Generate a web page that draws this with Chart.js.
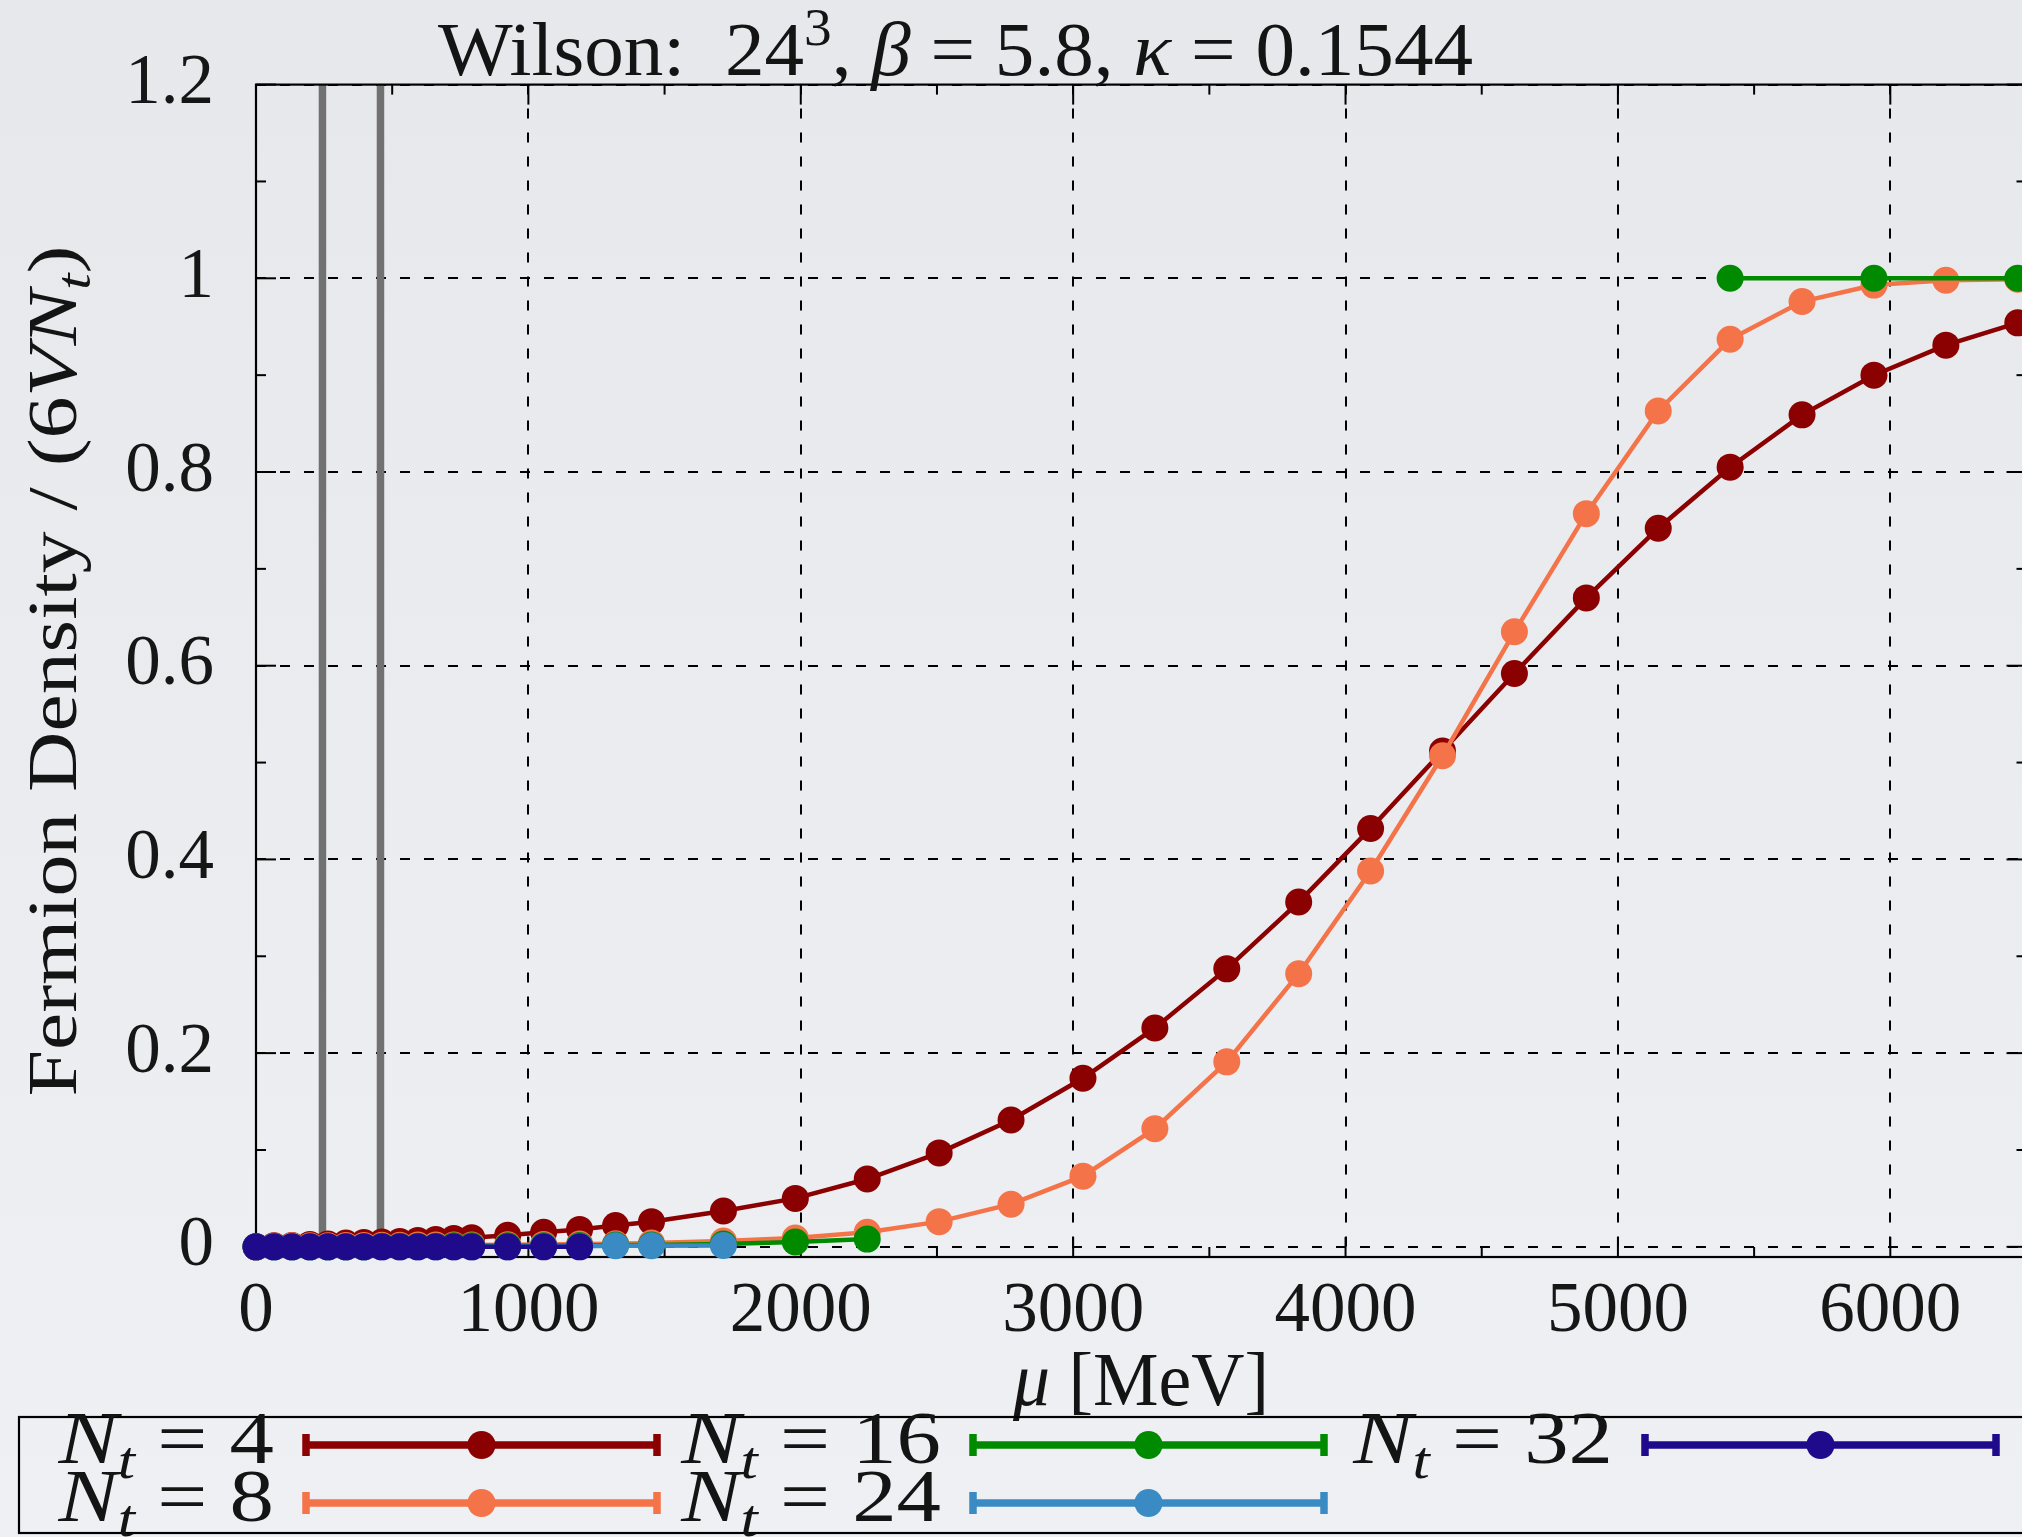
<!DOCTYPE html>
<html>
<head>
<meta charset="utf-8">
<title>Fermion density vs mu</title>
<script src="https://cdn.jsdelivr.net/npm/chart.js@4.4.1/dist/chart.umd.min.js"></script>
<style>
  html, body { margin: 0; padding: 0; overflow: hidden; background: #e9ebee; }
  #wrap { width: 2040px; height: 1537px; }
</style>
</head>
<body>
<div id="wrap"><canvas id="myChart"></canvas></div>
<script>
// mu in MeV, fermion density / (6 V N_t)
var mu4 = [0, 66, 132, 198, 264, 330, 396, 462, 528, 594, 660, 726, 792, 924, 1056, 1188, 1320, 1452,
  1716, 1980, 2244, 2508, 2772, 3036, 3300, 3564, 3828, 4092, 4356, 4620, 4884, 5148, 5412, 5676, 5940, 6204, 6468];
var dens4 = [0, 0.001, 0.0015, 0.0025, 0.003, 0.004, 0.0045, 0.005, 0.0055, 0.0065, 0.0075, 0.0085, 0.0095,
  0.012, 0.015, 0.018, 0.022, 0.026, 0.037, 0.050, 0.070, 0.097, 0.131, 0.174, 0.226, 0.287, 0.356, 0.432,
  0.512, 0.592, 0.670, 0.742, 0.805, 0.859, 0.900, 0.931, 0.954];

var mu8 = mu4;
var dens8 = [0, 0.0005, 0.001, 0.001, 0.0012, 0.0014, 0.0015, 0.0016, 0.0017, 0.0018, 0.0019, 0.002, 0.002,
  0.0022, 0.0025, 0.003, 0.0032, 0.004, 0.006, 0.009, 0.015, 0.026, 0.044, 0.073, 0.122, 0.191, 0.282, 0.388,
  0.507, 0.635, 0.757, 0.863, 0.937, 0.976, 0.993, 0.998, 0.999];

// no data between 2244 and 5412 -> null breaks the line
var mu16 = [0, 66, 132, 198, 264, 330, 396, 462, 528, 594, 660, 726, 792, 924, 1056, 1188, 1320, 1452,
  1716, 1980, 2244, 3828, 5412, 5940, 6468];
var dens16 = [0, 0, 0, 0, 0, 0, 0, 0.0005, 0.0005, 0.0005, 0.0005, 0.001, 0.001, 0.001, 0.001, 0.0015, 0.002, 0.002,
  0.003, 0.005, 0.008, null, 1, 1, 1];

var mu24 = [0, 66, 132, 198, 264, 330, 396, 462, 528, 594, 660, 726, 792, 924, 1056, 1188, 1320, 1452, 1716];
var dens24 = [0, 0, 0, 0, 0, 0, 0, 0, 0, 0, 0, 0, 0, 0, 0.0005, 0.0005, 0.0012, 0.0012, 0.0013];

var mu32 = [0, 66, 132, 198, 264, 330, 396, 462, 528, 594, 660, 726, 792, 924, 1056, 1188];
var dens32 = [0, 0, 0, 0, 0, 0, 0, 0, 0, 0, 0, 0, 0, 0, 0, 0];

var ntLabels = ['4', '8', '16', '24', '32'];
var colors = ['#8b0000', '#f47348', '#008a00', '#3a8bc3', '#1f0a8c'];

var refMu = [244, 457];   // grey vertical lines

var xTicks = [0, 1000, 2000, 3000, 4000, 5000, 6000];
var xMinor = [500, 1500, 2500, 3500, 4500, 5500];
var yTicks = [0, 0.2, 0.4, 0.6, 0.8, 1, 1.2];
var yMinor = [0.1, 0.3, 0.5, 0.7, 0.9, 1.1];

var series = [
  { mu: mu4, dens: dens4 },
  { mu: mu8, dens: dens8 },
  { mu: mu16, dens: dens16 },
  { mu: mu24, dens: dens24 },
  { mu: mu32, dens: dens32 }
];

var FONT = '"Liberation Serif", "DejaVu Serif", serif';

function partFont(p, size) {
  var s = (p.sub || p.sup) ? size * 0.7 : size;
  return (p.it ? 'italic ' : '') + s + 'px ' + FONT;
}

// mixed roman / italic / sub / sup text on one baseline
function drawRich(ctx, parts, x, y, size, opts) {
  opts = opts || {};
  ctx.save();
  var natural = 0;
  parts.forEach(function (p) { ctx.font = partFont(p, size); natural += ctx.measureText(p.t).width; });
  var sx = opts.width ? opts.width / natural : (opts.sx || 1);
  ctx.translate(x, y);
  if (opts.angle) ctx.rotate(opts.angle);
  ctx.scale(sx, 1);
  var cx = opts.align === 'right' ? -natural : opts.align === 'center' ? -natural / 2 : 0;
  ctx.fillStyle = '#141414';
  ctx.textBaseline = 'alphabetic';
  ctx.textAlign = 'left';
  parts.forEach(function (p) {
    ctx.font = partFont(p, size);
    var dy = p.sub ? size * 0.2 : p.sup ? -size * 0.4 : 0;
    ctx.fillText(p.t, cx, dy);
    cx += ctx.measureText(p.t).width;
  });
  ctx.restore();
}

function line(ctx, x1, y1, x2, y2) {
  ctx.beginPath(); ctx.moveTo(x1, y1); ctx.lineTo(x2, y2); ctx.stroke();
}

var paperPlugin = {
  id: 'paper',
  beforeDraw: function (chart) {
    var ctx = chart.ctx;
    var g = ctx.createLinearGradient(0, 0, 0, chart.height);
    g.addColorStop(0, '#e6e8eb');
    g.addColorStop(1, '#eef0f3');
    ctx.save();
    ctx.fillStyle = g;
    ctx.fillRect(0, 0, chart.width, chart.height);
    ctx.restore();
  },
  beforeDatasetsDraw: function (chart) {
    var ctx = chart.ctx, a = chart.chartArea;
    var xs = chart.scales.x, ys = chart.scales.y;
    ctx.save();
    // grey reference lines
    ctx.strokeStyle = '#717171';
    ctx.lineWidth = 7.5;
    refMu.forEach(function (m) {
      var px = xs.getPixelForValue(m);
      line(ctx, px, a.top, px, a.bottom);
    });
    // frame
    ctx.strokeStyle = '#000';
    ctx.lineWidth = 2.2;
    ctx.strokeRect(a.left, a.top, a.right - a.left, a.bottom - a.top);
    // inward ticks on all four sides
    ctx.lineWidth = 2;
    xTicks.concat(xMinor).forEach(function (v, i) {
      var len = i < xTicks.length ? 20 : 10;
      var px = xs.getPixelForValue(v);
      line(ctx, px, a.bottom, px, a.bottom - len);
      line(ctx, px, a.top, px, a.top + len);
    });
    yTicks.concat(yMinor).forEach(function (v, i) {
      var len = i < yTicks.length ? 20 : 10;
      var py = ys.getPixelForValue(v);
      line(ctx, a.left, py, a.left + len, py);
      line(ctx, a.right, py, a.right - len, py);
    });
    ctx.restore();
  },
  afterDraw: function (chart) {
    var ctx = chart.ctx;
    // title
    drawRich(ctx, [{ t: 'Wilson:  24' }, { t: '3', sup: true }, { t: ', ' }, { t: 'β', it: true },
      { t: ' = 5.8, ' }, { t: 'κ', it: true }, { t: ' = 0.1544' }], 438, 75, 76, { width: 1035 });
    // axis titles
    drawRich(ctx, [{ t: 'μ', it: true }, { t: ' [MeV]' }], 1013, 1405, 76, { width: 256 });
    drawRich(ctx, [{ t: 'Fermion Density / (6' }, { t: 'V', it: true }, { t: 'N', it: true },
      { t: 't', it: true, sub: true }, { t: ')' }], 76, 671, 70,
      { width: 851, align: 'center', angle: -Math.PI / 2 });

    // legend box
    ctx.save();
    ctx.strokeStyle = '#000';
    ctx.lineWidth = 2.2;
    ctx.strokeRect(19, 1417, 2100, 116);
    ctx.restore();

    chart.data.datasets.forEach(function (ds, i) {
      var col = Math.floor(i / 2), row = i % 2;
      var off = [0, 667, 1339][col];
      var ly = 1445 + row * 58;
      var x1 = 306 + off, x2 = 657 + off;
      drawRich(ctx, [{ t: 'N', it: true }, { t: 't', it: true, sub: true }, { t: ' = ' + ntLabels[i] }],
        274 + off, ly + 18, 74, { align: 'right', sx: 1.2 });
      ctx.save();
      ctx.strokeStyle = ds.borderColor;
      ctx.fillStyle = ds.borderColor;
      ctx.lineWidth = 7.5;
      line(ctx, x1, ly, x2, ly);
      line(ctx, x1, ly - 11, x1, ly + 11);
      line(ctx, x2, ly - 11, x2, ly + 11);
      ctx.beginPath();
      ctx.arc((x1 + x2) / 2, ly, 14, 0, Math.PI * 2);
      ctx.fill();
      ctx.restore();
    });
  }
};

var tickFont = { family: FONT, size: 71 };

var ctx = document.getElementById('myChart');
var myChart = new Chart(ctx, {
  type: 'line',
  data: {
    datasets: series.map(function (s, i) {
      return {
        label: 'N_t = ' + ntLabels[i],
        data: s.mu.map(function (m, j) { return { x: m, y: s.dens[j] }; }),
        borderColor: colors[i],
        backgroundColor: colors[i],
        pointBackgroundColor: colors[i],
        pointBorderWidth: 0,
        pointRadius: 13.5,
        borderWidth: 4.5,
        tension: 0,
        spanGaps: false,
        clip: false,
        order: series.length - i
      };
    })
  },
  options: {
    responsive: true,
    maintainAspectRatio: false,
    animation: false,
    events: [],
    layout: { padding: { left: 0, top: 82, right: 12, bottom: 0 } },
    plugins: {
      legend: { display: false },
      title: { display: false },
      tooltip: { enabled: false }
    },
    scales: {
      x: {
        type: 'linear',
        min: 0,
        max: 6500,
        afterBuildTicks: function (s) { s.ticks = xTicks.map(function (v) { return { value: v }; }); },
        afterFit: function (s) { s.height = 280; },
        grid: { color: '#000', lineWidth: 2, drawTicks: false },
        border: { display: false, dash: [10, 14] },
        ticks: {
          color: '#161616', font: tickFont, padding: 13, maxRotation: 0, autoSkip: false,
          callback: function (v) { return String(v); }
        }
      },
      y: {
        type: 'linear',
        min: -0.0105,
        max: 1.2,
        afterBuildTicks: function (s) { s.ticks = yTicks.map(function (v) { return { value: v }; }); },
        afterFit: function (s) { s.width = 256; },
        grid: { color: '#000', lineWidth: 2, drawTicks: false },
        border: { display: false, dash: [10, 14] },
        ticks: {
          color: '#161616', font: tickFont, padding: 42, autoSkip: false,
          callback: function (v) { return String(v); }
        }
      }
    }
  },
  plugins: [paperPlugin]
});
</script>
</body>
</html>
